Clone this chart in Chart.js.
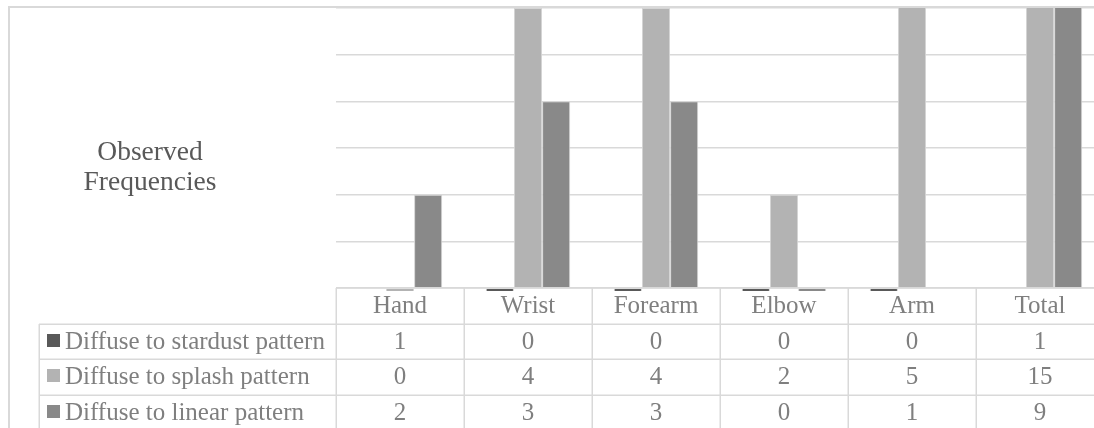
<!DOCTYPE html>
<html>
<head>
<meta charset="utf-8">
<script src="https://cdn.jsdelivr.net/npm/chart.js@4/dist/chart.umd.min.js"></script>
<style>
  html, body { margin: 0; padding: 0; background: #fff; overflow: hidden; width: 1094px; height: 428px; }
  canvas { display: block; }
</style>
</head>
<body>
<canvas id="chart" width="1112" height="428"></canvas>
<script>
// Injury location categories and the counts per spread pattern
const categories = ['Hand', 'Wrist', 'Forearm', 'Elbow', 'Arm', 'Total'];
const stardustCounts = [1, 0, 0, 0, 0, 1];
const splashCounts = [0, 4, 4, 2, 5, 15];
const linearCounts = [2, 3, 3, 0, 1, 9];
const seriesLabels = ['Diffuse to stardust pattern', 'Diffuse to splash pattern', 'Diffuse to linear pattern'];
const titleLines = ['Observed', 'Frequencies'];

// Value axis range (the horizontal axis crosses at the minimum)
const axisMin = 1;
const axisMax = 4;
const axisStep = 0.5;

const seriesColors = ['#595959', '#b3b3b3', '#898989'];
const seriesValues = [stardustCounts, splashCounts, linearCounts];
const lineColor = '#d9d9d9';
const textColor = '#7f7f7f';
const fontFamily = "'Liberation Serif', serif";

// Frame, side title and the data table under the plot
const dataTablePlugin = {
  id: 'dataTable',
  beforeDraw(chart) {
    const ctx = chart.ctx;
    ctx.save();
    ctx.fillStyle = '#ffffff';
    ctx.fillRect(0, 0, chart.width, chart.height);
    ctx.strokeStyle = lineColor;
    ctx.lineWidth = 2;
    ctx.strokeRect(9, 7, chart.width + 40, chart.height + 40);
    ctx.restore();
  },
  afterDatasetsDraw(chart) {
    const { ctx, chartArea } = chart;
    const x = chart.scales.x;
    const rowH = 35.5;
    const top = chartArea.bottom;
    const right = chartArea.right;
    const labelLeft = 39;
    const colW = x.width / categories.length;
    const rowTop = (r) => Math.round(top + rowH * r);

    ctx.save();
    ctx.strokeStyle = lineColor;
    ctx.lineWidth = 1.5;
    ctx.beginPath();
    // header row top
    ctx.moveTo(chartArea.left, top);
    ctx.lineTo(right, top);
    // series rows
    for (let r = 1; r <= seriesLabels.length + 1; r++) {
      const y = rowTop(r) + 0.25;
      ctx.moveTo(labelLeft, y);
      ctx.lineTo(right, y);
    }
    // column separators
    for (let i = 0; i <= categories.length; i++) {
      const cx = Math.round(chartArea.left + colW * i) + 0.25;
      ctx.moveTo(cx, top);
      ctx.lineTo(cx, chart.height);
    }
    ctx.moveTo(labelLeft + 0.25, rowTop(1));
    ctx.lineTo(labelLeft + 0.25, chart.height);
    ctx.stroke();

    ctx.font = '25px ' + fontFamily;
    ctx.fillStyle = textColor;
    ctx.textBaseline = 'alphabetic';
    ctx.textAlign = 'center';
    // category header
    categories.forEach((c, i) => {
      ctx.fillText(c, x.getPixelForValue(i), rowTop(0) + 25);
    });
    // series rows
    seriesValues.forEach((vals, r) => {
      const base = rowTop(r + 1) + 25;
      ctx.textAlign = 'center';
      vals.forEach((v, i) => {
        ctx.fillText(String(v), x.getPixelForValue(i), base);
      });
      ctx.fillStyle = seriesColors[r];
      ctx.fillRect(47, base - 15, 13, 13);
      ctx.fillStyle = textColor;
      ctx.textAlign = 'left';
      ctx.fillText(seriesLabels[r], 65, base);
    });

    // side title
    ctx.font = '27.5px ' + fontFamily;
    ctx.fillStyle = '#595959';
    ctx.textAlign = 'center';
    ctx.fillText(titleLines[0], 150, 160);
    ctx.fillText(titleLines[1], 150, 190);
    ctx.restore();
  }
};

const datasets = seriesLabels.map((label, i) => ({
  label,
  data: seriesValues[i],
  backgroundColor: seriesColors[i],
  borderColor: '#d4d4d4',
  borderWidth: 1,
  base: axisMin,
  clip: { left: 0, top: 0, right: 0, bottom: 3 }
}));

new Chart(document.getElementById('chart'), {
  type: 'bar',
  data: { labels: categories, datasets },
  options: {
    responsive: false,
    animation: false,
    devicePixelRatio: 1,
    layout: { padding: { left: 336, right: 8, top: 8, bottom: 0 } },
    datasets: { bar: { categoryPercentage: 0.66, barPercentage: 1 } },
    plugins: { legend: { display: false }, tooltip: { enabled: false }, title: { display: false } },
    scales: {
      x: {
        grid: { display: false },
        border: { display: false },
        ticks: { display: false },
        afterFit(scale) { scale.height = 140; }
      },
      y: {
        min: axisMin,
        max: axisMax,
        ticks: { display: false, stepSize: axisStep },
        grid: { color: lineColor, lineWidth: 1.5, drawTicks: false },
        border: { display: false },
        afterFit(scale) { scale.width = 0; }
      }
    }
  },
  plugins: [dataTablePlugin]
});
</script>
</body>
</html>
